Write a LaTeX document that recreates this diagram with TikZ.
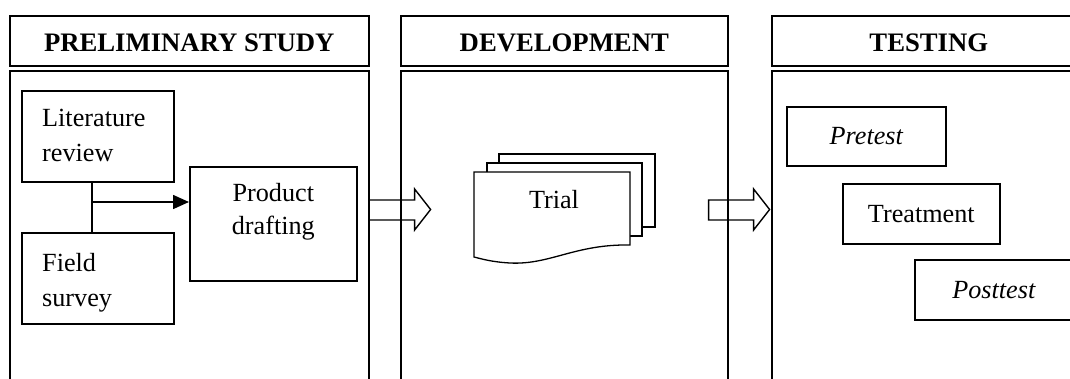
\documentclass[tikz,border=0pt]{standalone}
\usepackage{fontspec}
\setmainfont{Liberation Serif}
\usetikzlibrary{arrows.meta,calc}
\begin{document}
\begin{tikzpicture}[x=1pt,y=-1pt,
  frame/.style={draw, line width=1.6pt, inner sep=0pt, anchor=north west},
  headtxt/.style={font=\bfseries\fontsize{26.7}{30}\selectfont, inner sep=0pt},
  body/.style={font=\fontsize{26.2}{34}\selectfont, inner sep=0pt},
  bodyl/.style={body, align=left, anchor=west, font=\fontsize{26.2}{35}\selectfont},
  bodyc/.style={body, align=center, font=\fontsize{26.2}{33}\selectfont},
  page/.style={draw, line width=1.3pt, fill=white},
  blockarrow/.style={draw, line width=1.4pt},
  link/.style={draw, line width=1.6pt}]
\useasboundingbox (0,0) rectangle (1070,378);
\clip (0,0) rectangle (1070,378);

% stage headers
\node[frame, minimum width=359pt, minimum height=50pt] (h1) at (9,15) {};
\node[frame, minimum width=327pt, minimum height=50pt] (h2) at (400,15) {};
\node[frame, minimum width=314pt, minimum height=50pt] (h3) at (771,15) {};
\node[headtxt] (t1) at ([yshift=-2pt]h1.center) {PRELIMINARY STUDY};
\node[headtxt] (t2) at ([yshift=-2pt]h2.center) {DEVELOPMENT};
\node[headtxt] (t3) at ([yshift=-2pt]h3.center) {TESTING};

% stage bodies (open at the bottom)
\node[frame, minimum width=359pt, minimum height=330pt] (b1) at (9,70) {};
\node[frame, minimum width=327pt, minimum height=330pt] (b2) at (400,70) {};
\node[frame, minimum width=314pt, minimum height=330pt] (b3) at (771,70) {};

% preliminary study
\node[frame, minimum width=152pt, minimum height=91pt] (lit) at (21,90) {};
\node[frame, minimum width=152pt, minimum height=91pt] (field) at (21,232) {};
\node[frame, minimum width=167pt, minimum height=114pt] (prod) at (189,166) {};
\node[bodyl] (littxt) at (42,135.5) {Literature\\review};
\node[bodyl] (fieldtxt) at (42,283) {Field\\survey};
\node[bodyc] (prodtxt) at ([yshift=12pt]prod.center) {Product\\drafting};

\coordinate (j) at (92,202);
\path[link] (lit.south -| j) -- (field.north -| j);
\draw[link, -{Triangle[length=16pt,width=14pt]}] (j) -- (j -| prod.west);

% development: stacked documents
\path[page] (499,154) rectangle (655,227);
\path[page] (487,163) rectangle (642,236);
\path[page] (474,172) -- (630,172) -- (630,245)
  .. controls (575,244) and (550,265) .. (510,263)
  .. controls (492,262) and (482,259) .. (474,257) -- cycle;
\node[body] (trial) at (554,200) {Trial};

% testing
\node[frame, minimum width=159pt, minimum height=59pt, font=\itshape\fontsize{26.2}{30}\selectfont] (pre) at (786,106) {Pretest};
\node[frame, minimum width=157pt, minimum height=60pt, font=\fontsize{26.2}{30}\selectfont] (treat) at (842,183) {Treatment};
\node[frame, minimum width=158pt, minimum height=60pt, font=\itshape\fontsize{26.2}{30}\selectfont] (post) at (914,259) {Posttest};

% hollow block arrows between stages
\coordinate (a1) at (b1.east |- 0,210);
\draw[blockarrow] ($(a1)+(0,-10)$) -- ++(45,0) -- ++(0,-11) -- ($(a1)+(61,-0.5)$)
  -- ($(a1)+(45,20)$) -- ++(0,-10) -- ($(a1)+(0,10)$);
\coordinate (a2) at ($(b2.east |- 0,210)+(-20,0)$);
\draw[blockarrow] ($(a2)+(0,-10)$) -- ++(45,0) -- ++(0,-11) -- ($(a2)+(61,-0.5)$)
  -- ($(a2)+(45,20)$) -- ++(0,-10) -- ($(a2)+(0,10)$) -- cycle;
\end{tikzpicture}
\end{document}
